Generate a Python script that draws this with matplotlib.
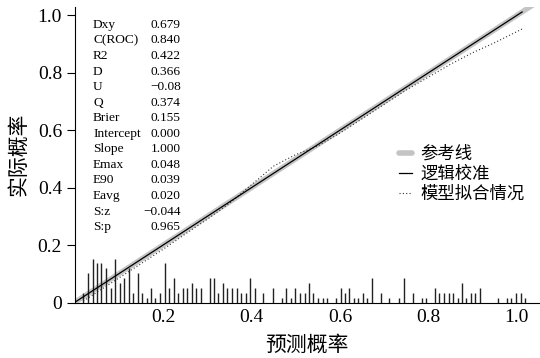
import matplotlib
matplotlib.use("Agg")
import matplotlib.pyplot as plt
from matplotlib.lines import Line2D

plt.rcParams['font.family'] = ['Liberation Serif', 'Noto Sans CJK SC']
plt.rcParams['axes.unicode_minus'] = True

# risk distribution spikes (predicted prob, count)
spike_x = [0.020, 0.031, 0.041, 0.050, 0.061, 0.071, 0.082, 0.091, 0.103, 0.113,
           0.123, 0.133, 0.143, 0.153, 0.163, 0.174, 0.183, 0.193, 0.204, 0.213,
           0.225, 0.234, 0.245, 0.255, 0.265, 0.275, 0.285, 0.306, 0.315, 0.325,
           0.335, 0.345, 0.356, 0.367, 0.376, 0.388, 0.397, 0.407, 0.427, 0.448,
           0.469, 0.478, 0.489, 0.499, 0.510, 0.520, 0.530, 0.540, 0.551, 0.561,
           0.570, 0.591, 0.602, 0.611, 0.621, 0.631, 0.641, 0.652, 0.662, 0.673,
           0.693, 0.712, 0.734, 0.744, 0.765, 0.785, 0.794, 0.814, 0.825, 0.835,
           0.846, 0.856, 0.866, 0.876, 0.885, 0.896, 0.906, 0.917, 0.957, 0.977,
           0.988, 0.999, 1.009, 1.019]
spike_n = [2, 6, 9, 8, 8, 7, 3, 9, 4, 5,
           7, 2, 6, 2, 1, 3, 1, 2, 8, 3,
           5, 2, 3, 3, 4, 3, 3, 5, 5, 2,
           4, 3, 3, 3, 2, 2, 5, 3, 2, 3,
           1, 3, 1, 3, 2, 2, 4, 2, 1, 1,
           1, 1, 3, 2, 3, 1, 1, 2, 1, 5,
           2, 1, 1, 5, 2, 1, 1, 3, 2, 2,
           2, 2, 1, 4, 1, 2, 2, 3, 1, 1,
           1, 2, 2, 1]

# nonparametric (loess) fit
loess_x = [0.02, 0.05, 0.10, 0.15, 0.20, 0.25, 0.30, 0.35, 0.40, 0.45, 0.50,
           0.55, 0.60, 0.65, 0.70, 0.75, 0.80, 0.85, 0.90, 0.95, 1.015]
loess_y = [0.005, 0.035, 0.085, 0.135, 0.185, 0.238, 0.290, 0.345, 0.410, 0.475, 0.515,
           0.545, 0.590, 0.640, 0.690, 0.740, 0.785, 0.830, 0.870, 0.905, 0.955]

# logistic calibration (intercept 0, slope 1)
logit_x = [0.0, 1.012]
logit_y = [0.0, 1.012]

stat_names = ['Dxy', 'C(ROC)', 'R2', 'D', 'U', 'Q', 'Brier', 'Intercept', 'Slope',
              'Emax', 'E90', 'Eavg', 'S:z', 'S:p']
stat_vals = ['0.679', '0.840', '0.422', '0.366', '\u22120.08', '0.374', '0.155', '0.000',
             '1.000', '0.048', '0.039', '0.020', '\u22120.044', '0.965']

fig = plt.figure(figsize=(5.4, 3.58), dpi=100)
ax = fig.add_axes([0.138, 0.155, 0.86, 0.826])

ax.plot([0, 1.06], [0, 1.06], color='#c4c4c4', lw=3.8, solid_capstyle='butt', zorder=1)
ax.plot(logit_x, logit_y, color='black', lw=0.9, zorder=3)
ax.plot(loess_x, loess_y, color='#333333', lw=0.8, linestyle=(0, (1, 2)), zorder=2)

ax.vlines(spike_x, 0, [n * 0.017 for n in spike_n], color='#222222', lw=1.0, zorder=2)

y0 = 0.967
dy = 0.0542
for i, (name, val) in enumerate(zip(stat_names, stat_vals)):
    ax.text(0.042, y0 - i * dy, name, fontsize=9.6, va='center', ha='left')
    ax.text(0.24, y0 - i * dy, val, fontsize=9.6, va='center', ha='right')

ax.set_xlim(0, 1.05)
ax.set_ylim(0, 1.03)
ax.spines['top'].set_visible(False)
ax.spines['right'].set_visible(False)
ax.set_xticks([0.2, 0.4, 0.6, 0.8, 1.0])
ax.set_xticklabels(['0.2', '0.4', '0.6', '0.8', '1.0'], fontsize=14)
ax.set_yticks([0, 0.2, 0.4, 0.6, 0.8, 1.0])
ax.set_yticklabels(['0', '0.2', '0.4', '0.6', '0.8', '1.0'], fontsize=14)
ax.tick_params(axis='x', length=0, pad=5)
ax.tick_params(axis='y', length=6, width=0.8, pad=3)
ax.set_xlabel('预测概率', fontsize=15, labelpad=7)
ax.set_ylabel('实际概率', fontsize=15, labelpad=6)

handles = [Line2D([], [], color='#c4c4c4', lw=4, solid_capstyle='round'),
           Line2D([], [], color='black', lw=0.9),
           Line2D([], [], color='#333333', lw=0.8, linestyle=(0, (1, 2)))]
labels = ['参考线', '逻辑校准', '模型拟合情况']
ax.legend(handles, labels, loc='upper left', bbox_to_anchor=(0.722, 0.615),
          bbox_transform=fig.transFigure, frameon=False, fontsize=12.5,
          handlelength=0.8, handletextpad=0.45, labelspacing=0.22, borderpad=0)

fig.savefig('out.png', dpi=100)
